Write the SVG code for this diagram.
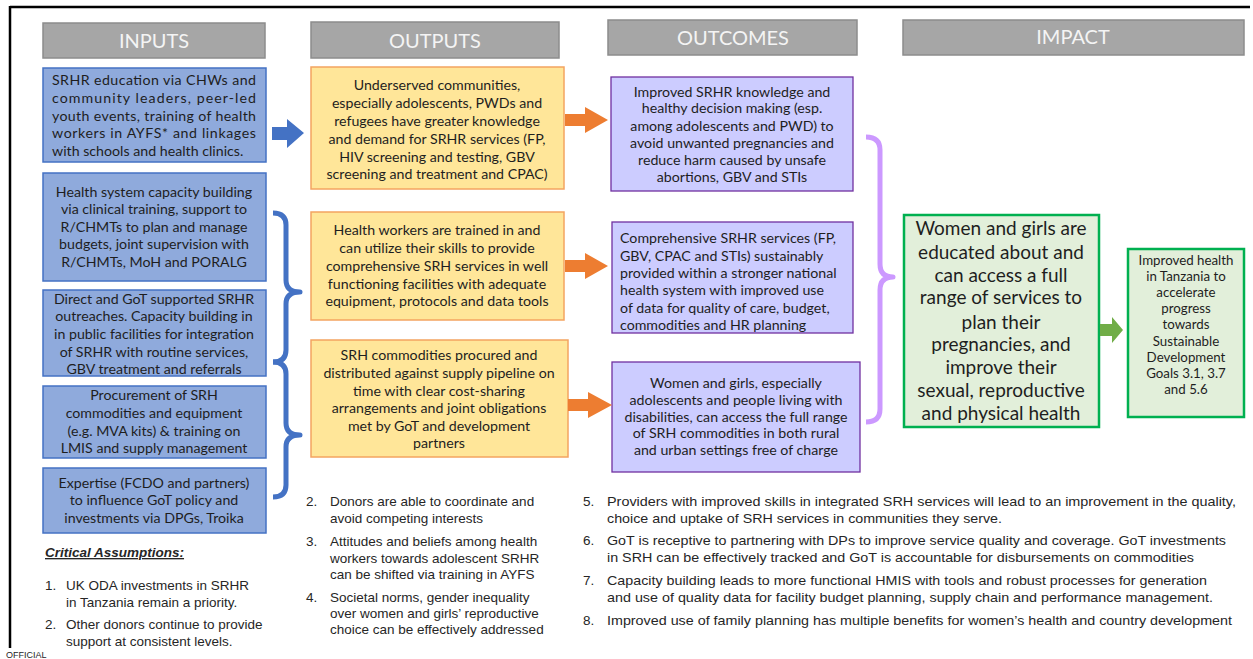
<svg xmlns="http://www.w3.org/2000/svg" width="1253" height="659" viewBox="0 0 1253 659">
  <style>
    .hdr { fill: #a6a6a6; stroke: #8c8c8c; stroke-width: 1.5; }
    .hdr-t { font-family: Lato, "Open Sans", sans-serif; font-size: 20px; fill: #f4f4f4; text-anchor: middle; }
    .inp { fill: #8faadc; stroke: #4472c4; stroke-width: 1.5; }
    .out { fill: #ffe699; stroke: #f4a460; stroke-width: 1.5; }
    .oc { fill: #ccccff; stroke: #7030a0; stroke-width: 1.3; }
    .imp { fill: #e2efda; stroke: #00b050; stroke-width: 2.5; }
    .t { font-family: Lato, "Open Sans", sans-serif; font-size: 14.2px; fill: #1e1e1e; text-anchor: middle; }
    .tl { text-anchor: start; }
    .big { font-size: 19px; }
    .small { font-size: 13.3px; }
    .note { font-family: "Liberation Sans", Arial, sans-serif; font-size: 13.5px; fill: #262626; }
    .brace-b { fill: none; stroke: #4472c4; stroke-width: 5; stroke-linejoin: round; }
    .brace-p { fill: none; stroke: #cc99ff; stroke-width: 5; stroke-linejoin: round; }
  </style>

  <rect x="0" y="0" width="1253" height="659" fill="#ffffff"/>

  <!-- page frame -->
  <g id="frame" stroke="#000" stroke-width="2.5">
    <line x1="10" y1="7" x2="1250" y2="7"/>
    <line x1="10" y1="6" x2="10" y2="648"/>
  </g>

  <!-- column headers -->
  <g id="hdr-inputs">
    <rect class="hdr" x="43" y="23" width="222" height="35"/>
    <text class="hdr-t" x="154" y="48">INPUTS</text>
  </g>
  <g id="hdr-outputs">
    <rect class="hdr" x="311" y="22" width="248" height="36"/>
    <text class="hdr-t" x="435" y="48">OUTPUTS</text>
  </g>
  <g id="hdr-outcomes">
    <rect class="hdr" x="608" y="20" width="249" height="35"/>
    <text class="hdr-t" x="733" y="45">OUTCOMES</text>
  </g>
  <g id="hdr-impact">
    <rect class="hdr" x="903" y="20" width="341" height="35"/>
    <text class="hdr-t" x="1073" y="44">IMPACT</text>
  </g>

  <!-- inputs -->
  <g id="input-1">
    <rect class="inp" x="43" y="68" width="223" height="94"/>
    <text class="t tl" x="52" y="85" textLength="204" lengthAdjust="spacing">SRHR education via CHWs and</text>
    <text class="t tl" x="52" y="103" textLength="204" lengthAdjust="spacing">community leaders, peer-led</text>
    <text class="t tl" x="52" y="121" textLength="204" lengthAdjust="spacing">youth events, training of health</text>
    <text class="t tl" x="52" y="138" textLength="204" lengthAdjust="spacing">workers in AYFS* and linkages</text>
    <text class="t tl" x="52" y="156">with schools and health clinics.</text>
  </g>
  <g id="input-2">
    <rect class="inp" x="43" y="173" width="223" height="108"/>
    <text class="t" x="154" y="197">Health system capacity building</text>
    <text class="t" x="154" y="214">via clinical training, support to</text>
    <text class="t" x="154" y="232">R/CHMTs to plan and manage</text>
    <text class="t" x="154" y="249">budgets, joint supervision with</text>
    <text class="t" x="154" y="267">R/CHMTs, MoH and PORALG</text>
  </g>
  <g id="input-3">
    <rect class="inp" x="43" y="290" width="223" height="86"/>
    <text class="t" x="154" y="304">Direct and GoT supported SRHR</text>
    <text class="t" x="154" y="321">outreaches. Capacity building in</text>
    <text class="t" x="154" y="339">in public facilities for integration</text>
    <text class="t" x="154" y="357">of SRHR with routine services,</text>
    <text class="t" x="154" y="374">GBV treatment and referrals</text>
  </g>
  <g id="input-4">
    <rect class="inp" x="43" y="386" width="223" height="72"/>
    <text class="t" x="154" y="400">Procurement of SRH</text>
    <text class="t" x="154" y="418">commodities and equipment</text>
    <text class="t" x="154" y="436">(e.g. MVA kits) &amp; training on</text>
    <text class="t" x="154" y="453">LMIS and supply management</text>
  </g>
  <g id="input-5">
    <rect class="inp" x="43" y="468" width="223" height="65"/>
    <text class="t" x="154" y="488">Expertise (FCDO and partners)</text>
    <text class="t" x="154" y="505">to influence GoT policy and</text>
    <text class="t" x="154" y="523">investments via DPGs, Troika</text>
  </g>

  <!-- outputs -->
  <g id="output-1">
    <rect class="out" x="311" y="67" width="253" height="122"/>
    <text class="t" x="437" y="90">Underserved communities,</text>
    <text class="t" x="437" y="108">especially adolescents, PWDs and</text>
    <text class="t" x="437" y="126">refugees have greater knowledge</text>
    <text class="t" x="437" y="144">and demand for SRHR services (FP,</text>
    <text class="t" x="437" y="162">HIV screening and testing, GBV</text>
    <text class="t" x="437" y="179">screening and treatment and CPAC)</text>
  </g>
  <g id="output-2">
    <rect class="out" x="311" y="212" width="253" height="108"/>
    <text class="t" x="437" y="235">Health workers are trained in and</text>
    <text class="t" x="437" y="253">can utilize their skills to provide</text>
    <text class="t" x="437" y="271">comprehensive SRH services in well</text>
    <text class="t" x="437" y="289">functioning facilities with adequate</text>
    <text class="t" x="437" y="306">equipment, protocols and data tools</text>
  </g>
  <g id="output-3">
    <rect class="out" x="311" y="340" width="257" height="117"/>
    <text class="t" x="439" y="360">SRH commodities procured and</text>
    <text class="t" x="439" y="378">distributed against supply pipeline on</text>
    <text class="t" x="439" y="396">time with clear cost-sharing</text>
    <text class="t" x="439" y="413">arrangements and joint obligations</text>
    <text class="t" x="439" y="431">met by GoT and development</text>
    <text class="t" x="439" y="448">partners</text>
  </g>

  <!-- outcomes -->
  <g id="outcome-1">
    <rect class="oc" x="611" y="77" width="242" height="114"/>
    <text class="t" x="732" y="97">Improved SRHR knowledge and</text>
    <text class="t" x="732" y="113">healthy decision making (esp.</text>
    <text class="t" x="732" y="131">among adolescents and PWD) to</text>
    <text class="t" x="732" y="148">avoid unwanted pregnancies and</text>
    <text class="t" x="732" y="165">reduce harm caused by unsafe</text>
    <text class="t" x="732" y="182">abortions, GBV and STIs</text>
  </g>
  <g id="outcome-2">
    <rect class="oc" x="612" y="222" width="241" height="111"/>
    <text class="t tl" x="620" y="243">Comprehensive SRHR services (FP,</text>
    <text class="t tl" x="620" y="261">GBV, CPAC and STIs) sustainably</text>
    <text class="t tl" x="620" y="278">provided within a stronger national</text>
    <text class="t tl" x="620" y="295">health system with improved use</text>
    <text class="t tl" x="620" y="313">of data for quality of care, budget,</text>
    <text class="t tl" x="620" y="330">commodities and HR planning</text>
  </g>
  <g id="outcome-3">
    <rect class="oc" x="612" y="362" width="248" height="110"/>
    <text class="t" x="736" y="388">Women and girls, especially</text>
    <text class="t" x="736" y="405">adolescents and people living with</text>
    <text class="t" x="736" y="422">disabilities, can access the full range</text>
    <text class="t" x="736" y="438">of SRH commodities in both rural</text>
    <text class="t" x="736" y="455">and urban settings free of charge</text>
  </g>

  <!-- impact -->
  <g id="impact-1">
    <rect class="imp" x="904" y="215" width="195" height="212"/>
    <text class="t big" x="1001" y="235">Women and girls are</text>
    <text class="t big" x="1001" y="259">educated about and</text>
    <text class="t big" x="1001" y="282">can access a full</text>
    <text class="t big" x="1001" y="304">range of services to</text>
    <text class="t big" x="1001" y="329">plan their</text>
    <text class="t big" x="1001" y="351">pregnancies, and</text>
    <text class="t big" x="1001" y="374">improve their</text>
    <text class="t big" x="1001" y="397">sexual, reproductive</text>
    <text class="t big" x="1001" y="420">and physical health</text>
  </g>
  <g id="impact-2">
    <rect class="imp" x="1128" y="249" width="116" height="168"/>
    <text class="t small" x="1186" y="265">Improved health</text>
    <text class="t small" x="1186" y="281">in Tanzania to</text>
    <text class="t small" x="1186" y="297">accelerate</text>
    <text class="t small" x="1186" y="313">progress</text>
    <text class="t small" x="1186" y="329">towards</text>
    <text class="t small" x="1186" y="346">Sustainable</text>
    <text class="t small" x="1186" y="362">Development</text>
    <text class="t small" x="1186" y="378">Goals 3.1, 3.7</text>
    <text class="t small" x="1186" y="394">and 5.6</text>
  </g>

  <!-- connectors: block arrows and braces -->
  <g id="connectors">
    <polygon fill="#4472c4" points="272,127 287,127 287,119 304,133 287,148 287,140 272,140"/>
    <polygon fill="#ed7d31" points="565,114 585,114 585,107 608,120 585,133 585,126 565,126"/>
    <polygon fill="#ed7d31" points="565,260 585,260 585,253 608,266 585,279 585,272 565,272"/>
    <polygon fill="#ed7d31" points="568,399 588,399 588,392 612,405 588,418 588,411 568,411"/>
    <polygon fill="#70ad47" points="1100,324 1112,324 1112,317 1123,330 1112,343 1112,336 1100,336"/>
    <path class="brace-b" d="M273,213 Q286,213 286,225 L286,280 Q286,292 300,292 Q286,292 286,304 L286,350 Q286,362 273,362"/>
    <path class="brace-b" d="M273,362 Q286,362 286,374 L286,423 Q286,435 300,435 Q286,435 286,447 L286,485 Q286,497 273,497"/>
    <path class="brace-p" d="M866,137 Q880,137 880,150 L880,264 Q880,277 893,277 Q880,277 880,290 L880,409 Q880,422 866,422"/>
  </g>

  <!-- critical assumptions -->
  <g id="assumptions">
    <text class="note" x="45" y="557" font-weight="bold" font-style="italic" text-decoration="underline">Critical Assumptions:</text>
    <text class="note" x="45" y="590">1.</text>
    <text class="note" x="66" y="590">UK ODA investments in SRHR</text>
    <text class="note" x="66" y="607">in Tanzania remain a priority.</text>
    <text class="note" x="45" y="629">2.</text>
    <text class="note" x="66" y="629">Other donors continue to provide</text>
    <text class="note" x="66" y="646">support at consistent levels.</text>

    <text class="note" x="306" y="506">2.</text>
    <text class="note" x="330" y="506">Donors are able to coordinate and</text>
    <text class="note" x="330" y="523">avoid competing interests</text>
    <text class="note" x="306" y="546">3.</text>
    <text class="note" x="330" y="546">Attitudes and beliefs among health</text>
    <text class="note" x="330" y="563">workers towards adolescent SRHR</text>
    <text class="note" x="330" y="579">can be shifted via training in AYFS</text>
    <text class="note" x="306" y="602">4.</text>
    <text class="note" x="330" y="602">Societal norms, gender inequality</text>
    <text class="note" x="330" y="618">over women and girls’ reproductive</text>
    <text class="note" x="330" y="634">choice can be effectively addressed</text>

    <text class="note" x="583" y="506">5.</text>
    <text class="note" x="607" y="506" textLength="629" lengthAdjust="spacingAndGlyphs">Providers with improved skills in integrated SRH services will lead to an improvement in the quality,</text>
    <text class="note" x="607" y="523" textLength="395" lengthAdjust="spacingAndGlyphs">choice and uptake of SRH services in communities they serve.</text>
    <text class="note" x="583" y="545">6.</text>
    <text class="note" x="607" y="545" textLength="619" lengthAdjust="spacingAndGlyphs">GoT is receptive to partnering with DPs to improve service quality and coverage. GoT investments</text>
    <text class="note" x="607" y="562" textLength="587" lengthAdjust="spacingAndGlyphs">in SRH can be effectively tracked and GoT is accountable for disbursements on commodities</text>
    <text class="note" x="583" y="585">7.</text>
    <text class="note" x="607" y="585" textLength="600" lengthAdjust="spacingAndGlyphs">Capacity building leads to more functional HMIS with tools and robust processes for generation</text>
    <text class="note" x="607" y="602" textLength="606" lengthAdjust="spacingAndGlyphs">and use of quality data for facility budget planning, supply chain and performance management.</text>
    <text class="note" x="583" y="625">8.</text>
    <text class="note" x="607" y="625" textLength="625" lengthAdjust="spacingAndGlyphs">Improved use of family planning has multiple benefits for women’s health and country development</text>
  </g>

  <text x="6" y="658" font-family="Liberation Sans, Arial, sans-serif" font-size="9" fill="#262626">OFFICIAL</text>
</svg>
